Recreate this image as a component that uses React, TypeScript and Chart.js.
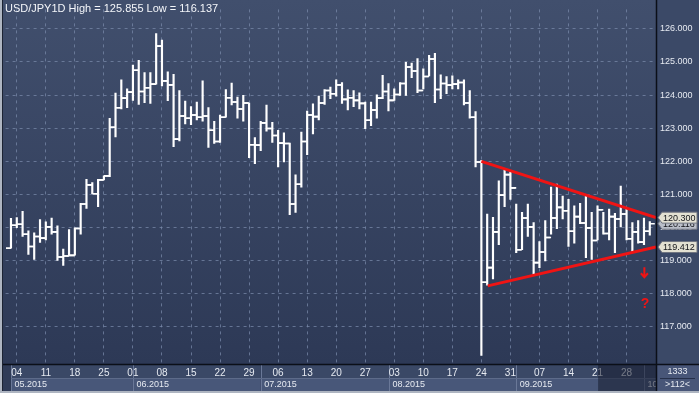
import React, { useEffect, useRef } from 'react';
import { Chart, registerables } from 'chart.js';

Chart.register(...registerables);

// ---- Data (USD/JPY daily, 01.05.2015 .. 02.10.2015, trading-day index 0..110) ----
const HIGH = [
  120.28, 120.30, 120.49, 119.90, 119.84, 120.24, 120.17, 120.29, 120.05, 119.35,
  119.94, 119.99, 120.73, 121.46, 121.36, 121.46, 121.56, 123.30, 124.06, 124.46,
  124.19, 124.91, 125.05, 124.68, 124.68, 125.855, 125.66, 124.70, 124.63, 124.14,
  123.82, 123.65, 123.79, 124.43, 123.62, 123.21, 123.40, 124.17, 124.36, 123.94,
  123.99, 123.76, 122.72, 123.21, 123.70, 123.18, 122.94, 122.86, 122.55, 121.59,
  122.88, 123.52, 123.74, 123.97, 124.17, 124.24, 124.46, 124.38, 124.16, 124.14,
  124.07, 123.79, 123.79, 124.01, 124.60, 124.35, 124.19, 124.38, 124.99, 124.97,
  125.10, 124.79, 125.20, 125.26, 124.61, 124.56, 124.58, 124.46, 124.46, 124.14,
  123.50, 122.03, 120.41, 120.31, 121.41, 121.76, 121.69, 120.71, 120.46, 120.71,
  120.15, 119.58, 120.21, 121.22, 121.31, 120.95, 120.85, 120.66, 120.73, 120.95,
  120.46, 120.66, 120.46, 120.56, 120.43, 121.25, 120.56, 120.15, 120.21, 120.29,
  120.18,
];
const LOW = [
  119.38, 120.00, 119.73, 119.19, 119.04, 119.55, 119.63, 119.80, 119.01, 118.86,
  119.14, 119.17, 119.80, 120.58, 121.02, 120.63, 121.44, 121.54, 122.74, 123.58,
  123.62, 123.84, 123.72, 123.77, 123.75, 124.33, 124.28, 123.83, 122.44, 122.62,
  123.13, 123.11, 123.25, 123.21, 122.42, 122.54, 122.57, 123.33, 123.70, 123.30,
  123.21, 122.11, 121.93, 122.32, 122.91, 122.57, 121.83, 121.98, 120.39, 120.46,
  121.22, 122.20, 122.83, 123.25, 123.72, 123.89, 123.97, 123.75, 123.55, 123.65,
  123.58, 122.99, 123.08, 123.30, 123.89, 123.52, 123.84, 123.99, 123.99, 124.53,
  124.07, 124.19, 124.58, 123.77, 123.89, 124.04, 124.19, 124.19, 123.70, 123.30,
  121.83, 116.137, 118.26, 118.45, 119.48, 120.63, 120.85, 119.24, 119.33, 119.73,
  118.57, 118.79, 118.99, 119.80, 119.97, 120.26, 119.43, 119.53, 120.12, 119.09,
  119.04, 119.63, 119.80, 119.63, 119.24, 120.02, 119.63, 119.28, 119.53, 119.48,
  119.77,
];
const OPEN = [
  119.38, 120.07, 120.10, 119.80, 119.43, 119.73, 119.68, 120.02, 119.87, 119.11,
  119.14, 119.16, 119.97, 120.71, 121.29, 121.02, 121.44, 121.56, 123.03, 123.62,
  123.91, 124.09, 124.75, 124.11, 124.22, 124.33, 125.48, 124.43, 124.31, 122.67,
  123.37, 123.30, 123.40, 123.33, 123.37, 122.94, 122.60, 123.33, 123.92, 123.79,
  123.58, 123.76, 122.50, 122.49, 123.16, 122.99, 122.78, 122.55, 122.54, 120.71,
  121.31, 122.60, 123.40, 123.35, 123.76, 124.14, 124.04, 124.31, 123.87, 123.92,
  123.84, 123.75, 123.24, 123.55, 123.91, 124.11, 123.84, 124.02, 124.35, 124.85,
  124.73, 124.14, 124.56, 125.09, 124.17, 124.35, 124.30, 124.33, 124.38, 123.76,
  123.33, 121.98, 118.35, 118.79, 119.87, 120.98, 121.60, 121.20, 119.33, 120.29,
  120.02, 118.94, 119.26, 119.70, 120.29, 120.61, 120.51, 119.89, 120.33, 120.14,
  119.99, 119.61, 120.54, 119.82, 120.33, 120.26, 120.41, 119.66, 119.87, 119.56,
  119.89,
];
const CLOSE = [
  120.07, 120.10, 119.80, 119.43, 119.73, 119.68, 120.02, 119.87, 119.11, 119.14,
  119.16, 119.97, 120.71, 121.29, 121.02, 121.44, 121.56, 123.03, 123.62, 123.91,
  124.09, 124.75, 124.11, 124.22, 124.33, 125.48, 124.43, 124.31, 122.67, 123.37,
  123.30, 123.40, 123.33, 123.37, 122.94, 122.60, 123.33, 123.92, 123.79, 123.58,
  123.76, 122.50, 122.49, 123.16, 122.99, 122.78, 122.55, 122.54, 120.71, 121.31,
  122.60, 123.40, 123.35, 123.76, 124.14, 124.04, 124.31, 123.87, 123.92, 123.84,
  123.75, 123.24, 123.55, 123.91, 124.11, 123.84, 124.02, 124.35, 124.85, 124.73,
  124.14, 124.56, 125.09, 124.17, 124.35, 124.30, 124.33, 124.38, 123.76, 123.33,
  121.98, 118.35, 118.79, 119.87, 120.98, 121.60, 121.20, 119.33, 120.29, 120.02,
  118.94, 119.26, 119.70, 120.29, 120.61, 120.51, 119.89, 120.33, 120.14, 119.99,
  119.61, 120.54, 119.82, 120.33, 120.26, 120.41, 119.66, 119.87, 119.56, 119.89,
  120.116,
];

const DAY_TICK_INDEX = [1, 6, 11, 16, 21, 26, 31, 36, 41, 46, 51, 56, 61, 66, 71, 76, 81, 86, 91, 96, 101, 106];
const DAY_TICK_LABELS = ['04', '11', '18', '25', '01', '08', '15', '22', '29', '06', '13', '20', '27', '03', '10', '17', '24', '31', '07', '14', '21', '28'];
const MONTH_START_INDEX = [0, 21, 43, 65.1, 87, 109];
const MONTH_LABELS = ['05.2015', '06.2015', '07.2015', '08.2015', '09.2015', '10.2015'];
const PRICE_TICKS = [117, 118, 119, 120, 121, 122, 123, 124, 125, 126];

const X_MIN = -0.926;
const X_MAX = 111.07;
const Y_MIN = 115.88;
const Y_MAX = 126.588;

const UPPER_TREND = [{ x: 81, y: 122.0 }, { x: X_MAX, y: 120.3 }];
const LOWER_TREND = [{ x: 82.1, y: 118.24 }, { x: X_MAX, y: 119.412 }];

const TITLE = 'USD/JPY1D High = 125.855 Low = 116.137';
const BAR_COUNT_TEXT = '1333';
const VISIBLE_TEXT = '>112<';
const LAST_PRICE = 120.116;
const TAGS = [
  { value: LAST_PRICE, text: '120.116', fill: '#b9bec8' },
  { value: 120.3, text: '120.300', fill: '#e3e1d2' },
  { value: 119.412, text: '119.412', fill: '#e3e1d2' },
];
const ARROW = { x: 109.07, top: 118.80, bottom: 118.50 };
const QUESTION = { x: 109.2, y: 117.68 };
const OVERLAY_START_INDEX = 101.1;

const FONT = "'Liberation Sans', Arial, sans-serif";
const GRID = 'rgba(120,136,168,0.75)';
const TEXT = '#e6eaf1';
const RED = '#f01414';
const TICK_SHIFT = 0.43;

const decor = {
  id: 'decor',
  beforeDraw(chart: any) {
    const { ctx, chartArea: a, width: W, height: H } = chart;
    const xs = chart.scales.x;
    ctx.save();
    ctx.fillStyle = '#33405c';
    ctx.fillRect(0, 0, W, H);
    const g = ctx.createLinearGradient(0, 0, 0, a.bottom);
    g.addColorStop(0, '#414f6d');
    g.addColorStop(1, '#2d3956');
    ctx.fillStyle = g;
    ctx.fillRect(0, 0, a.right, a.bottom);
    ctx.fillStyle = '#3b4967';
    ctx.fillRect(a.right, 0, W - a.right, a.bottom);
    const rowMid = a.bottom + 14;
    const bottom = H - 2;
    ctx.fillStyle = '#2f3b57';
    ctx.fillRect(0, a.bottom, a.right, bottom - a.bottom);
    for (let i = 0; i < MONTH_START_INDEX.length; i++) {
      const x0 = xs.getPixelForValue(MONTH_START_INDEX[i]);
      const x1 = i + 1 < MONTH_START_INDEX.length ? xs.getPixelForValue(MONTH_START_INDEX[i + 1]) : a.right;
      ctx.fillStyle = '#3a4866';
      ctx.fillRect(x0, a.bottom, x1 - x0, rowMid - a.bottom);
      ctx.fillStyle = '#485779';
      ctx.fillRect(x0, rowMid, x1 - x0, bottom - rowMid);
      ctx.strokeStyle = '#6a7898';
      ctx.lineWidth = 1;
      ctx.beginPath();
      ctx.moveTo(Math.round(x0) + 0.5, a.bottom);
      ctx.lineTo(Math.round(x0) + 0.5, bottom);
      ctx.stroke();
    }
    ctx.strokeStyle = '#5d6b8a';
    ctx.beginPath();
    ctx.moveTo(xs.getPixelForValue(MONTH_START_INDEX[0]), rowMid + 0.5);
    ctx.lineTo(a.right, rowMid + 0.5);
    ctx.stroke();
    ctx.restore();
  },
  afterDraw(chart: any) {
    const { ctx, chartArea: a, width: W, height: H } = chart;
    const xs = chart.scales.x;
    const ys = chart.scales.y;
    const rowMid = a.bottom + 14;
    const bottom = H - 2;
    ctx.save();
    ctx.font = `9px ${FONT}`;
    ctx.fillStyle = TEXT;
    ctx.textBaseline = 'middle';
    ctx.textAlign = 'left';
    MONTH_LABELS.forEach((m, i) => {
      ctx.fillText(m, xs.getPixelForValue(MONTH_START_INDEX[i]) + 3.5, rowMid + 6.5);
    });
    const ox = xs.getPixelForValue(OVERLAY_START_INDEX);
    ctx.fillStyle = 'rgba(22,28,46,0.55)';
    ctx.fillRect(ox, a.bottom, a.right - ox, bottom - a.bottom);
    ctx.fillStyle = '#485678';
    ctx.fillRect(a.right, a.bottom, W - a.right, bottom - a.bottom);
    ctx.strokeStyle = '#26304a';
    ctx.lineWidth = 1;
    ctx.beginPath();
    ctx.moveTo(a.right + 4, rowMid + 0.5);
    ctx.lineTo(W - 4, rowMid + 0.5);
    ctx.stroke();
    ctx.fillStyle = TEXT;
    ctx.textAlign = 'center';
    ctx.fillText(BAR_COUNT_TEXT, (a.right + W) / 2, a.bottom + 7.5);
    ctx.fillText(VISIBLE_TEXT, (a.right + W) / 2, rowMid + 7);
    ctx.strokeStyle = '#0b0f18';
    ctx.lineWidth = 1.5;
    ctx.beginPath();
    ctx.moveTo(a.right + 0.5, 0);
    ctx.lineTo(a.right + 0.5, H);
    ctx.moveTo(0, a.bottom + 0.5);
    ctx.lineTo(W, a.bottom + 0.5);
    ctx.stroke();
    ctx.fillStyle = '#aeb5c1';
    ctx.fillRect(0, 0, 2, H);
    ctx.fillRect(0, H - 2, W, 2);
    ctx.fillStyle = '#1c2333';
    ctx.fillRect(2, 0, 1, H - 2);
    ctx.font = `11px ${FONT}`;
    ctx.fillStyle = '#f4f6fa';
    ctx.textAlign = 'left';
    ctx.fillText(TITLE, 5, 8.5);
    ctx.font = `9px ${FONT}`;
    TAGS.forEach((t) => {
      const y = ys.getPixelForValue(t.value);
      ctx.beginPath();
      ctx.moveTo(a.right + 2, y);
      ctx.lineTo(a.right + 6, y - 5.5);
      ctx.lineTo(W - 2, y - 5.5);
      ctx.lineTo(W - 2, y + 5.5);
      ctx.lineTo(a.right + 6, y + 5.5);
      ctx.closePath();
      ctx.fillStyle = t.fill;
      ctx.fill();
      ctx.strokeStyle = '#6f7480';
      ctx.lineWidth = 1;
      ctx.stroke();
      ctx.fillStyle = '#121418';
      ctx.textAlign = 'left';
      ctx.fillText(t.text, a.right + 7, y + 0.5);
    });
    ctx.strokeStyle = RED;
    ctx.lineWidth = 2;
    const ax = xs.getPixelForValue(ARROW.x);
    const at = ys.getPixelForValue(ARROW.top);
    const ab = ys.getPixelForValue(ARROW.bottom);
    ctx.beginPath();
    ctx.moveTo(ax, at);
    ctx.lineTo(ax, ab);
    ctx.moveTo(ax - 3.5, ab - 4);
    ctx.lineTo(ax, ab);
    ctx.lineTo(ax + 3.5, ab - 4);
    ctx.stroke();
    ctx.fillStyle = RED;
    ctx.font = `bold 14px ${FONT}`;
    ctx.textAlign = 'center';
    ctx.fillText('?', xs.getPixelForValue(QUESTION.x), ys.getPixelForValue(QUESTION.y));
    ctx.restore();
  },
};

export default function App() {
  const ref = useRef<HTMLCanvasElement | null>(null);
  useEffect(() => {
    if (!ref.current) return;
    const chart = new Chart(ref.current, {
      type: 'bar',
      data: {
        datasets: [
          { type: 'line', data: UPPER_TREND, borderColor: RED, borderWidth: 3, pointRadius: 0, order: 0 } as any,
          { type: 'line', data: LOWER_TREND, borderColor: RED, borderWidth: 3, pointRadius: 0, order: 0 } as any,
          {
            type: 'line',
            data: OPEN.map((o, i) => ({ x: i - TICK_SHIFT, y: o })),
            showLine: false,
            pointStyle: 'line',
            pointRadius: 2.5,
            pointBorderWidth: 1.6,
            pointBorderColor: '#ffffff',
            order: 1,
          } as any,
          {
            type: 'line',
            data: CLOSE.map((c, i) => ({ x: i + TICK_SHIFT, y: c })),
            showLine: false,
            pointStyle: 'line',
            pointRadius: 2.5,
            pointBorderWidth: 1.6,
            pointBorderColor: '#ffffff',
            order: 1,
          } as any,
          {
            type: 'bar',
            data: HIGH.map((h, i) => ({ x: i, y: [LOW[i], h] })),
            backgroundColor: '#ffffff',
            barThickness: 1.5,
            borderWidth: 0,
            order: 2,
          } as any,
        ],
      },
      options: {
        responsive: false,
        animation: false,
        events: [],
        layout: { padding: { left: 3, top: 0, right: 0, bottom: 0 } },
        plugins: { legend: { display: false }, tooltip: { enabled: false }, title: { display: false } },
        scales: {
          x: {
            type: 'linear',
            offset: false,
            min: X_MIN,
            max: X_MAX,
            afterBuildTicks: (s: any) => {
              s.ticks = DAY_TICK_INDEX.map((v) => ({ value: v }));
            },
            afterFit: (s: any) => {
              s.height = 29;
            },
            grid: { color: GRID, lineWidth: 1, drawTicks: false, offset: false },
            border: { display: false, dash: [3, 4] },
            ticks: {
              autoSkip: false,
              maxRotation: 0,
              minRotation: 0,
              padding: 3,
              color: TEXT,
              font: { family: FONT, size: 10 },
              callback: (_v: any, i: number) => DAY_TICK_LABELS[i],
            },
          },
          y: {
            type: 'linear',
            position: 'right',
            min: Y_MIN,
            max: Y_MAX,
            afterBuildTicks: (s: any) => {
              s.ticks = PRICE_TICKS.map((v) => ({ value: v }));
            },
            afterFit: (s: any) => {
              s.width = 43;
            },
            grid: { color: GRID, lineWidth: 1, drawTicks: false },
            border: { display: false, dash: [3, 4] },
            ticks: {
              padding: 4,
              color: TEXT,
              font: { family: FONT, size: 9 },
              callback: (v: any) => Number(v).toFixed(3),
            },
          },
        },
      } as any,
      plugins: [decor],
    });
    return () => chart.destroy();
  }, []);
  return (
    <div style={{ position: 'fixed', left: 0, top: 0, width: 699, height: 393 }}>
      <canvas ref={ref} width={699} height={393} style={{ display: 'block' }} />
    </div>
  );
}
